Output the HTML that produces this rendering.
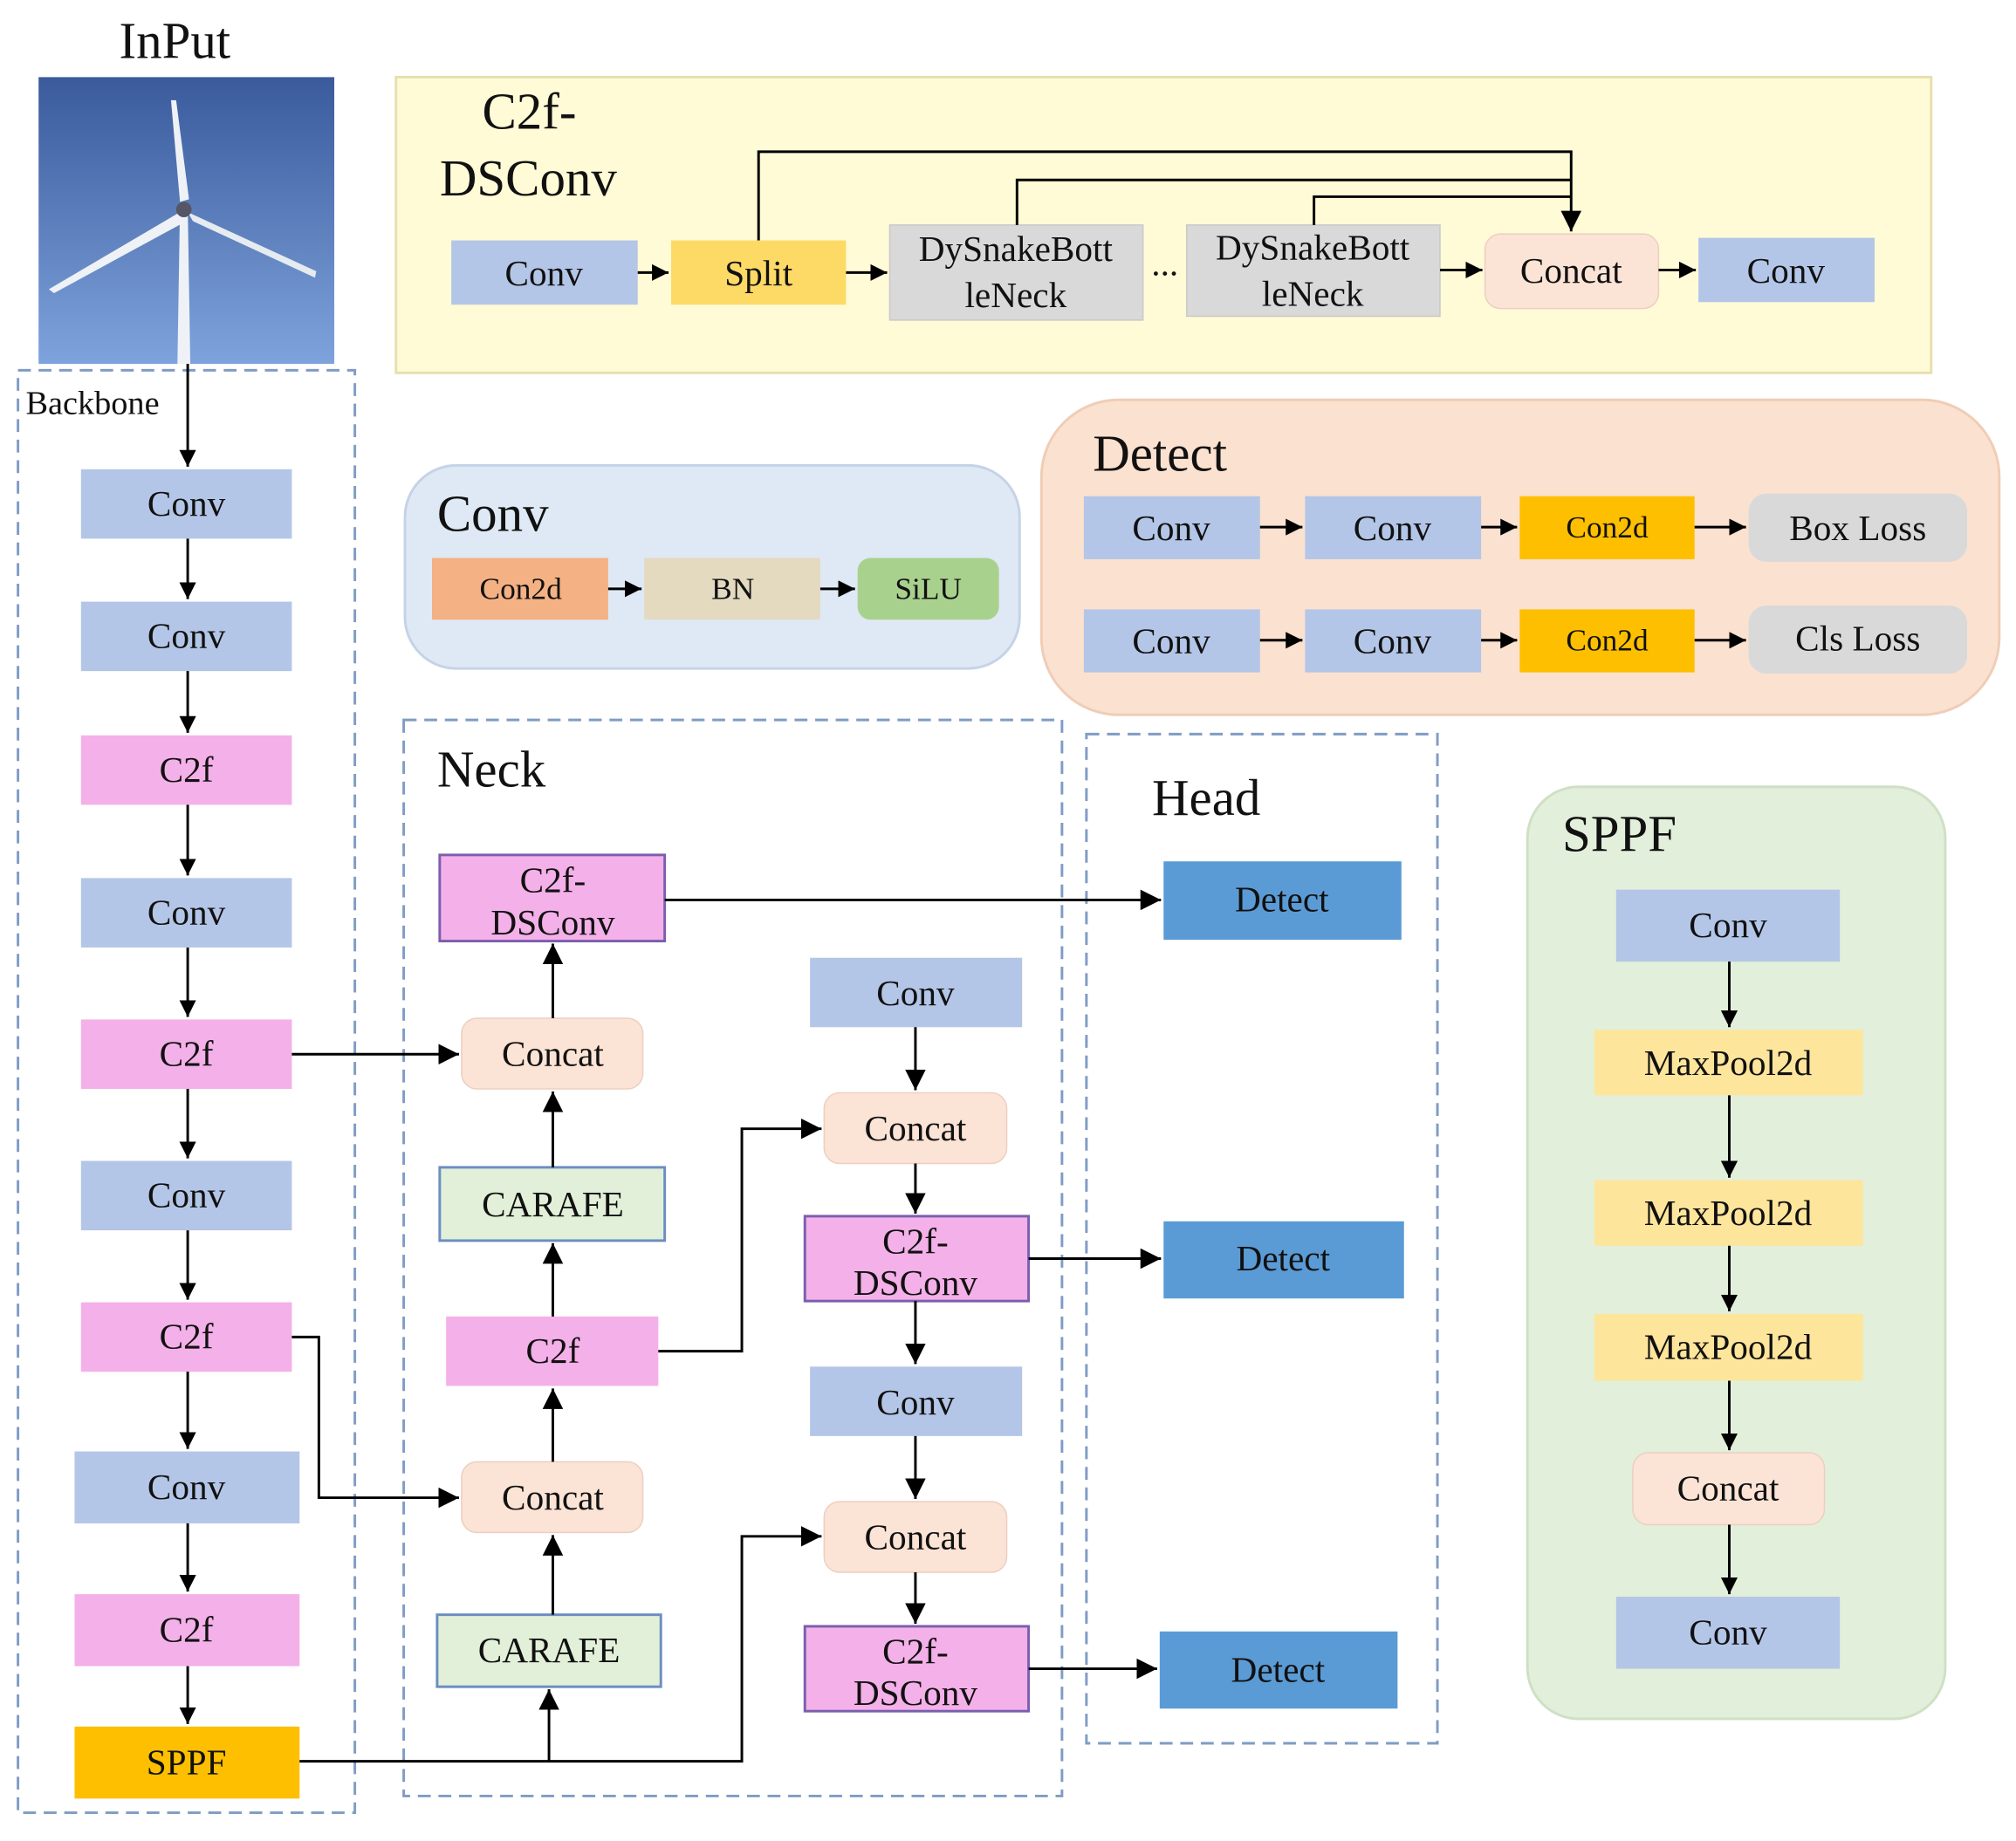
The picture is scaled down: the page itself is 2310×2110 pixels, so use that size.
<!DOCTYPE html>
<html><head><meta charset="utf-8"><style>
html,body{margin:0;padding:0;background:#fff;}
svg{display:block;}
text{font-family:"Liberation Serif",serif;fill:#111;}
</style></head><body>
<svg width="2310" height="2110" viewBox="0 0 1568 1432" preserveAspectRatio="none" xmlns="http://www.w3.org/2000/svg">
<defs>
<marker id="a" viewBox="0 0 10 10" refX="10" refY="5" markerWidth="13" markerHeight="13" markerUnits="userSpaceOnUse" orient="auto"><path d="M0,0L10,5L0,10z" fill="#000"/></marker>
<marker id="b" viewBox="0 0 10 10" refX="10" refY="5" markerWidth="16" markerHeight="16" markerUnits="userSpaceOnUse" orient="auto"><path d="M0,0L10,5L0,10z" fill="#000"/></marker>
<linearGradient id="sky" x1="0" y1="0" x2="0" y2="1"><stop offset="0" stop-color="#3a5a9c"/><stop offset="1" stop-color="#7ea3dc"/></linearGradient>
</defs>
<g stroke="none">
<text x="136" y="45" font-size="40" text-anchor="middle">InPut</text>
<rect x="30" y="60" width="230" height="223" fill="url(#sky)"/>
<path d="M140,160 L146,160 L148,283 L138,283Z" fill="#eef2f6"/>
<path d="M133,78 L137,78 L147,155 L140,157Z" fill="#eef2f6"/>
<path d="M140,165 L145,172 L42,228 L38,225Z" fill="#eef2f6"/>
<path d="M146,165 L150,172 L245,216 L246,211Z" fill="#e6ebf0"/>
<circle cx="143" cy="163" r="6" fill="#556"/>
<rect x="308" y="60" width="1194" height="230" fill="#fffbd6" stroke="#e6dfb0" stroke-width="2"/>
<text x="375" y="100" font-size="40">C2f-</text>
<text x="342" y="152" font-size="40">DSConv</text>
</g>
<g font-size="28" text-anchor="middle">
<rect x="351" y="187" width="145" height="50" fill="#b4c6e7"/><text x="423" y="222">Conv</text>
<rect x="522" y="187" width="136" height="50" fill="#fdd966"/><text x="590" y="222">Split</text>
<rect x="692" y="175" width="197" height="74" fill="#d9d9d9" stroke="#c8c8c8"/><text x="790" y="203">DySnakeBott</text><text x="790" y="239">leNeck</text>
<text x="906" y="214">...</text>
<rect x="923" y="175" width="197" height="71" fill="#d9d9d9" stroke="#c8c8c8"/><text x="1021" y="202">DySnakeBott</text><text x="1021" y="238">leNeck</text>
<rect x="1155" y="182" width="135" height="58" rx="12" fill="#fbe3d6" stroke="#eccfc0"/><text x="1222" y="220">Concat</text>
<rect x="1321" y="185" width="137" height="50" fill="#b4c6e7"/><text x="1389" y="220">Conv</text>
</g>
<g stroke="#000" stroke-width="2" fill="none">
<path d="M496,212H520" marker-end="url(#a)"/>
<path d="M658,212H690" marker-end="url(#a)"/>
<path d="M1120,210H1153" marker-end="url(#a)"/>
<path d="M1290,210H1319" marker-end="url(#a)"/>
<path d="M590,187V118H1222V180" marker-end="url(#b)"/>
<path d="M791,175V140H1222"/>
<path d="M1022,175V153H1222"/>
</g>

<rect x="315" y="362" width="478" height="158" rx="40" fill="#dfe9f5" stroke="#c5d3e6" stroke-width="2"/>
<text x="340" y="413" font-size="40">Conv</text>
<g font-size="24" text-anchor="middle">
<rect x="336" y="434" width="137" height="48" fill="#f4b183"/><text x="405" y="466">Con2d</text>
<rect x="501" y="434" width="137" height="48" fill="#e4dac0"/><text x="570" y="466">BN</text>
<rect x="667" y="434" width="110" height="48" rx="10" fill="#a9d18e"/><text x="722" y="466">SiLU</text>
</g>
<g stroke="#000" stroke-width="2"><path d="M473,458H499" marker-end="url(#a)"/><path d="M638,458H665" marker-end="url(#a)"/></g>

<rect x="810" y="311" width="745" height="245" rx="60" fill="#fbe1cf" stroke="#efcdb6" stroke-width="2"/>
<text x="850" y="366" font-size="40">Detect</text>
<g font-size="28" text-anchor="middle">
<rect x="843" y="386" width="137" height="49" fill="#b4c6e7"/><text x="911" y="420">Conv</text>
<rect x="1015" y="386" width="137" height="49" fill="#b4c6e7"/><text x="1083" y="420">Conv</text>
<rect x="1182" y="386" width="136" height="49" fill="#fdbf00"/><text x="1250" y="418" font-size="24">Con2d</text>
<rect x="1360" y="384" width="170" height="53" rx="14" fill="#d9d9d9"/><text x="1445" y="420">Box Loss</text>
<rect x="843" y="474" width="137" height="49" fill="#b4c6e7"/><text x="911" y="508">Conv</text>
<rect x="1015" y="474" width="137" height="49" fill="#b4c6e7"/><text x="1083" y="508">Conv</text>
<rect x="1182" y="474" width="136" height="49" fill="#fdbf00"/><text x="1250" y="506" font-size="24">Con2d</text>
<rect x="1360" y="471" width="170" height="53" rx="14" fill="#d9d9d9"/><text x="1445" y="506">Cls Loss</text>
</g>
<g stroke="#000" stroke-width="2">
<path d="M980,410H1013" marker-end="url(#a)"/><path d="M1152,410H1180" marker-end="url(#a)"/><path d="M1318,410H1358" marker-end="url(#a)"/>
<path d="M980,498H1013" marker-end="url(#a)"/><path d="M1152,498H1180" marker-end="url(#a)"/><path d="M1318,498H1358" marker-end="url(#a)"/>
</g>

<rect x="1188" y="612" width="325" height="725" rx="40" fill="#e2efda" stroke="#cfe0c5" stroke-width="2"/>
<text x="1215" y="662" font-size="40">SPPF</text>
<g font-size="28" text-anchor="middle">
<rect x="1257" y="692" width="174" height="56" fill="#b4c6e7"/><text x="1344" y="729">Conv</text>
<rect x="1240" y="801" width="209" height="51" fill="#fee59c"/><text x="1344" y="836">MaxPool2d</text>
<rect x="1240" y="918" width="209" height="51" fill="#fee59c"/><text x="1344" y="953">MaxPool2d</text>
<rect x="1240" y="1022" width="209" height="52" fill="#fee59c"/><text x="1344" y="1057">MaxPool2d</text>
<rect x="1270" y="1130" width="149" height="56" rx="12" fill="#fbe3d6" stroke="#eccfc0"/><text x="1344" y="1167">Concat</text>
<rect x="1257" y="1242" width="174" height="56" fill="#b4c6e7"/><text x="1344" y="1279">Conv</text>
</g>
<g stroke="#000" stroke-width="2">
<path d="M1345,748V799" marker-end="url(#a)"/><path d="M1345,852V916" marker-end="url(#a)"/><path d="M1345,969V1020" marker-end="url(#a)"/><path d="M1345,1074V1128" marker-end="url(#a)"/><path d="M1345,1186V1240" marker-end="url(#a)"/>
</g>

<g fill="none" stroke="#7f9cc4" stroke-width="2" stroke-dasharray="10,6">
<rect x="14" y="288" width="262" height="1122"/>
<rect x="314" y="560" width="512" height="837"/>
<rect x="845" y="571" width="273" height="785"/>
</g>
<rect x="18" y="298" width="124" height="32" fill="#fff"/>
<text x="20" y="322" font-size="26">Backbone</text>
<text x="340" y="612" font-size="40">Neck</text>
<text x="896" y="634" font-size="40">Head</text>

<g font-size="28" text-anchor="middle">
<rect x="63" y="365" width="164" height="54" fill="#b4c6e7"/><text x="145" y="401">Conv</text>
<rect x="63" y="468" width="164" height="54" fill="#b4c6e7"/><text x="145" y="504">Conv</text>
<rect x="63" y="572" width="164" height="54" fill="#f4b0e8"/><text x="145" y="608">C2f</text>
<rect x="63" y="683" width="164" height="54" fill="#b4c6e7"/><text x="145" y="719">Conv</text>
<rect x="63" y="793" width="164" height="54" fill="#f4b0e8"/><text x="145" y="829">C2f</text>
<rect x="63" y="903" width="164" height="54" fill="#b4c6e7"/><text x="145" y="939">Conv</text>
<rect x="63" y="1013" width="164" height="54" fill="#f4b0e8"/><text x="145" y="1049">C2f</text>
<rect x="58" y="1129" width="175" height="56" fill="#b4c6e7"/><text x="145" y="1166">Conv</text>
<rect x="58" y="1240" width="175" height="56" fill="#f4b0e8"/><text x="145" y="1277">C2f</text>
<rect x="58" y="1343" width="175" height="56" fill="#fdbf00"/><text x="145" y="1380">SPPF</text>
</g>
<g stroke="#000" stroke-width="2" fill="none">
<path d="M146,283V363" marker-end="url(#a)"/>
<path d="M146,419V466" marker-end="url(#a)"/><path d="M146,522V570" marker-end="url(#a)"/><path d="M146,626V681" marker-end="url(#a)"/>
<path d="M146,737V791" marker-end="url(#a)"/><path d="M146,847V901" marker-end="url(#a)"/><path d="M146,957V1011" marker-end="url(#a)"/>
<path d="M146,1067V1127" marker-end="url(#a)"/><path d="M146,1185V1238" marker-end="url(#a)"/><path d="M146,1296V1341" marker-end="url(#a)"/>
</g>

<g font-size="28" text-anchor="middle">
<rect x="342" y="665" width="175" height="67" fill="#f4b0e8" stroke="#7a5fae" stroke-width="2"/><text x="430" y="694">C2f-</text><text x="430" y="727">DSConv</text>
<rect x="359" y="792" width="141" height="55" rx="12" fill="#fbe3d6" stroke="#eccfc0"/><text x="430" y="829">Concat</text>
<rect x="342" y="908" width="175" height="57" fill="#e2f0d9" stroke="#6c8ebf" stroke-width="2"/><text x="430" y="946">CARAFE</text>
<rect x="347" y="1024" width="165" height="54" fill="#f4b0e8"/><text x="430" y="1060">C2f</text>
<rect x="359" y="1137" width="141" height="55" rx="12" fill="#fbe3d6" stroke="#eccfc0"/><text x="430" y="1174">Concat</text>
<rect x="340" y="1256" width="174" height="56" fill="#e2f0d9" stroke="#6c8ebf" stroke-width="2"/><text x="427" y="1293">CARAFE</text>
<rect x="630" y="745" width="165" height="54" fill="#b4c6e7"/><text x="712" y="782">Conv</text>
<rect x="641" y="850" width="142" height="55" rx="12" fill="#fbe3d6" stroke="#eccfc0"/><text x="712" y="887">Concat</text>
<rect x="626" y="946" width="174" height="66" fill="#f4b0e8" stroke="#7a5fae" stroke-width="2"/><text x="712" y="975">C2f-</text><text x="712" y="1007">DSConv</text>
<rect x="630" y="1063" width="165" height="54" fill="#b4c6e7"/><text x="712" y="1100">Conv</text>
<rect x="641" y="1168" width="142" height="55" rx="12" fill="#fbe3d6" stroke="#eccfc0"/><text x="712" y="1205">Concat</text>
<rect x="626" y="1265" width="174" height="66" fill="#f4b0e8" stroke="#7a5fae" stroke-width="2"/><text x="712" y="1294">C2f-</text><text x="712" y="1326">DSConv</text>
<rect x="905" y="670" width="185" height="61" fill="#5b9bd5"/><text x="997" y="709">Detect</text>
<rect x="905" y="950" width="187" height="60" fill="#5b9bd5"/><text x="998" y="988">Detect</text>
<rect x="902" y="1269" width="185" height="60" fill="#5b9bd5"/><text x="994" y="1308">Detect</text>
</g>
<g stroke="#000" stroke-width="2" fill="none">
<path d="M227,820H357" marker-end="url(#b)"/>
<path d="M227,1040H248V1165H357" marker-end="url(#b)"/>
<path d="M233,1370H577V1195H639" marker-end="url(#b)"/>
<path d="M427,1370V1314" marker-end="url(#b)"/>
<path d="M430,1256V1194" marker-end="url(#b)"/>
<path d="M430,1137V1080" marker-end="url(#b)"/>
<path d="M430,1024V967" marker-end="url(#b)"/>
<path d="M430,908V849" marker-end="url(#b)"/>
<path d="M430,792V734" marker-end="url(#b)"/>
<path d="M512,1051H577V878H639" marker-end="url(#b)"/>
<path d="M712,799V848" marker-end="url(#b)"/>
<path d="M712,905V944" marker-end="url(#b)"/>
<path d="M712,1012V1061" marker-end="url(#b)"/>
<path d="M712,1117V1166" marker-end="url(#b)"/>
<path d="M712,1223V1263" marker-end="url(#b)"/>
<path d="M517,700H903" marker-end="url(#b)"/>
<path d="M800,979H903" marker-end="url(#b)"/>
<path d="M800,1298H900" marker-end="url(#b)"/>
</g>
</svg>
</body></html>
